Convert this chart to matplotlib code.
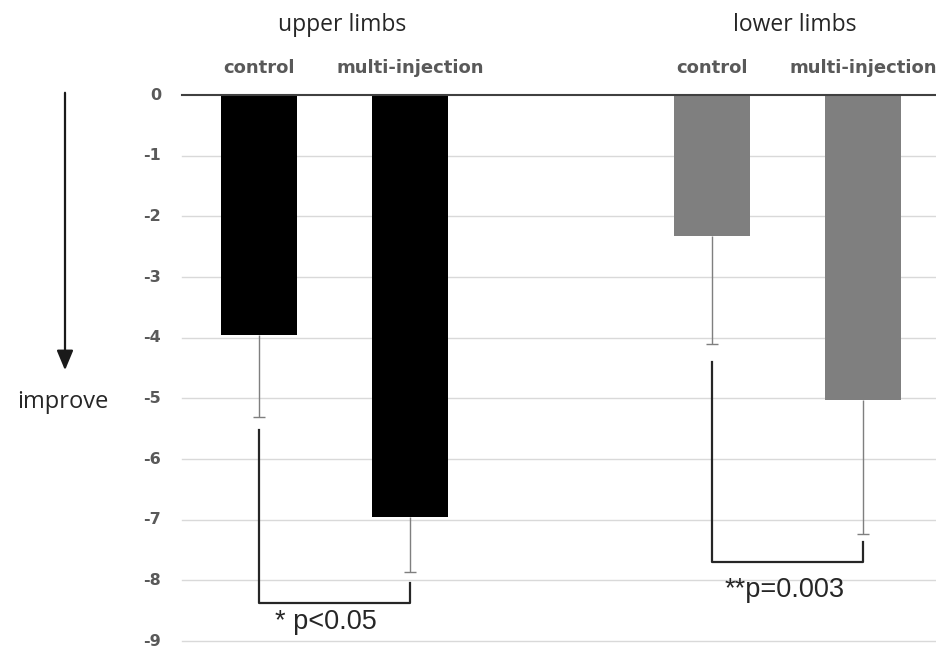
import matplotlib
matplotlib.use("Agg")
import matplotlib.pyplot as plt

# ค่าที่อ่านจากภาพ
groups = ["upper limbs", "lower limbs"]
sub_labels = ["control", "multi-injection", "control", "multi-injection"]
bar_pos = [0, 1, 3, 4]
means = [-3.95, -6.96, -2.33, -5.02]
errs = [1.36, 0.91, 1.78, 2.21]
bar_colors = ["#000000", "#000000", "#7f7f7f", "#7f7f7f"]
yticks = [0, -1, -2, -3, -4, -5, -6, -7, -8, -9]

# เส้นวงเล็บบอกนัยสำคัญ: (x ซ้าย, x ขวา, ยอดซ้าย, ยอดขวา, ฐาน)
brackets = [(0, 1, -5.52, -8.04, -8.37), (3, 4, -4.40, -7.37, -7.70)]
sig_text = ["* p<0.05", "**p=0.003"]
sig_pos = [(0.44, -8.69), (3.48, -8.16)]

W, H = 937, 650
fig = plt.figure(figsize=(W / 100, H / 100), dpi=100)
ax = fig.add_axes([182 / W, (H - 641) / H, 1 - 182 / W, 546 / H])

ax.bar(bar_pos, means, width=0.5, color=bar_colors, zorder=3)
# error bar ลงด้านล่างอย่างเดียว มีขีดปลายเฉพาะด้านล่าง
low = [m - e for m, e in zip(means, errs)]
ax.vlines(bar_pos, means, low, color="#7f7f7f", lw=1.0, zorder=4)
ax.plot(bar_pos, low, ls="none", marker="_", ms=8, mew=1.0, color="#7f7f7f", zorder=4)

ax.set_xlim(-0.51, 4.49)
ax.set_ylim(-9, 0)
ax.set_yticks(yticks)
ax.set_yticklabels([str(v) for v in yticks], fontsize=11.5, fontweight="bold",
                   color="#595959", family=["Liberation Sans Narrow", "DejaVu Sans"],
                   va="center")
ax.tick_params(axis="y", length=0, pad=15)
ax.set_xticks([])
for s in ax.spines.values():
    s.set_visible(False)
for v in yticks[1:]:
    ax.axhline(v, color="#d9d9d9", lw=1.0, zorder=1, clip_on=False)
ax.axhline(0, color="#404040", lw=1.5, zorder=5, clip_on=False)

# หัวกลุ่มและป้ายแท่ง
tr = ax.get_xaxis_transform()
for gx, g in zip([0.55, 3.55], groups):
    ax.text(gx, 1.128, g, transform=tr, ha="center", va="center", fontsize=16.5,
            color="#262626", family=["Open Sans", "DejaVu Sans"])
for x, lab in zip(bar_pos, sub_labels):
    ax.text(x, 1.049, lab, transform=tr, ha="center", va="center", fontsize=13,
            fontweight="bold", color="#595959", family=["Liberation Sans Narrow", "DejaVu Sans"],
            clip_on=False)

for (xl, xr, yl, yr, yb) in brackets:
    ax.plot([xl, xl, xr, xr], [yl, yb, yb, yr], color="#262626", lw=1.6,
            zorder=6, clip_on=False)
for (x, y), t in zip(sig_pos, sig_text):
    ax.text(x, y, t, ha="center", va="center", fontsize=19.5, color="#262626",
            family=["Liberation Sans", "DejaVu Sans"])

# ลูกศร improve
fig.patches.append(matplotlib.patches.FancyArrowPatch(
    (65, H - 90), (65, H - 373), transform=None, arrowstyle="-|>,head_length=6,head_width=2.5",
    color="#1a1a1a", lw=1.6, mutation_scale=2))
fig.text(63 / W, (H - 402) / H, "improve", ha="center", va="center", fontsize=17,
         color="#262626", family=["Open Sans", "DejaVu Sans"])

fig.savefig("out.png", dpi=100)
